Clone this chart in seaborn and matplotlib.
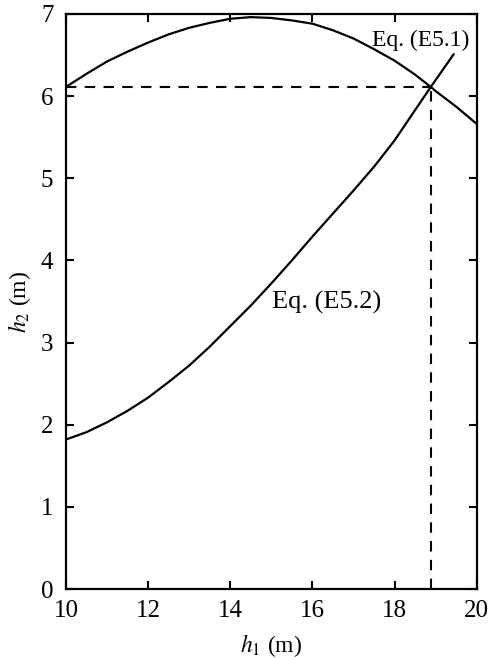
import matplotlib
matplotlib.use("Agg")
import matplotlib.pyplot as plt
import seaborn as sns
import pandas as pd

# curve values
h1_e51 = [10, 10.5, 11, 11.5, 12, 12.5, 13, 13.5, 14, 14.5, 15, 15.5, 16,
          16.5, 17, 17.5, 18, 18.5, 18.88, 19, 19.5, 20]
h2_e51 = [6.11, 6.27, 6.42, 6.54, 6.65, 6.75, 6.83, 6.89, 6.94, 6.96, 6.95, 6.92, 6.88,
          6.80, 6.70, 6.57, 6.43, 6.26, 6.11, 6.06, 5.87, 5.66]

h1_e52 = [10, 10.5, 11, 11.5, 12, 12.5, 13, 13.5, 14, 14.5, 15, 15.5, 16,
          16.5, 17, 17.5, 18, 18.5, 18.88, 19.44]
h2_e52 = [1.82, 1.91, 2.03, 2.17, 2.33, 2.52, 2.72, 2.95, 3.20, 3.45, 3.72, 4.00, 4.29,
          4.57, 4.85, 5.14, 5.46, 5.83, 6.11, 6.51]

# solution (intersection)
h1_sol = 18.88
h2_sol = 6.11

x_ticks = [10, 12, 14, 16, 18, 20]
y_ticks = [0, 1, 2, 3, 4, 5, 6, 7]

df1 = pd.DataFrame({"h1": h1_e51, "h2": h2_e51})
df2 = pd.DataFrame({"h1": h1_e52, "h2": h2_e52})

sns.set_theme(style="ticks")
plt.rcParams['font.family'] = ['Liberation Serif', 'DejaVu Serif']
plt.rcParams['mathtext.fontset'] = 'stix'
plt.rcParams['text.color'] = 'black'
plt.rcParams['axes.labelcolor'] = 'black'

fig = plt.figure(figsize=(4.88, 6.59), dpi=100)
ax = fig.add_axes([0.135, 0.106, 0.842, 0.873])

sns.lineplot(data=df1, x="h1", y="h2", ax=ax, color="black", lw=1.6, sort=False)
sns.lineplot(data=df2, x="h1", y="h2", ax=ax, color="black", lw=1.6, sort=False)

# dashed guide lines to the solution point
ax.plot([x_ticks[0], h1_sol], [h2_sol, h2_sol], color="black", lw=1.5, ls=(0, (5, 4)))
ax.plot([h1_sol, h1_sol], [y_ticks[0], h2_sol], color="black", lw=1.5, ls=(0, (5, 4)))

ax.text(17.45, 6.68, "Eq. (E5.1)", fontsize=17, va="center", ha="left", color="black")
ax.text(15.02, 3.49, "Eq. (E5.2)", fontsize=19, va="center", ha="left", color="black")

ax.set_xlim(10, 20)
ax.set_ylim(0, 7)
ax.set_xticks(x_ticks)
ax.set_yticks(y_ticks)
ax.tick_params(direction="in", top=True, right=True, length=6, width=1.5,
               labelsize=18, colors="black")
ax.tick_params(axis="x", pad=8)
ax.tick_params(axis="y", pad=9)
for s in ax.spines.values():
    s.set_linewidth(1.6)
    s.set_color("black")

ax.set_xlabel("$h_1$ (m)", fontsize=17, labelpad=7, color="black")
ax.set_ylabel("$h_2$ (m)", fontsize=17, labelpad=6, color="black")

fig.savefig("out.png", dpi=100)
